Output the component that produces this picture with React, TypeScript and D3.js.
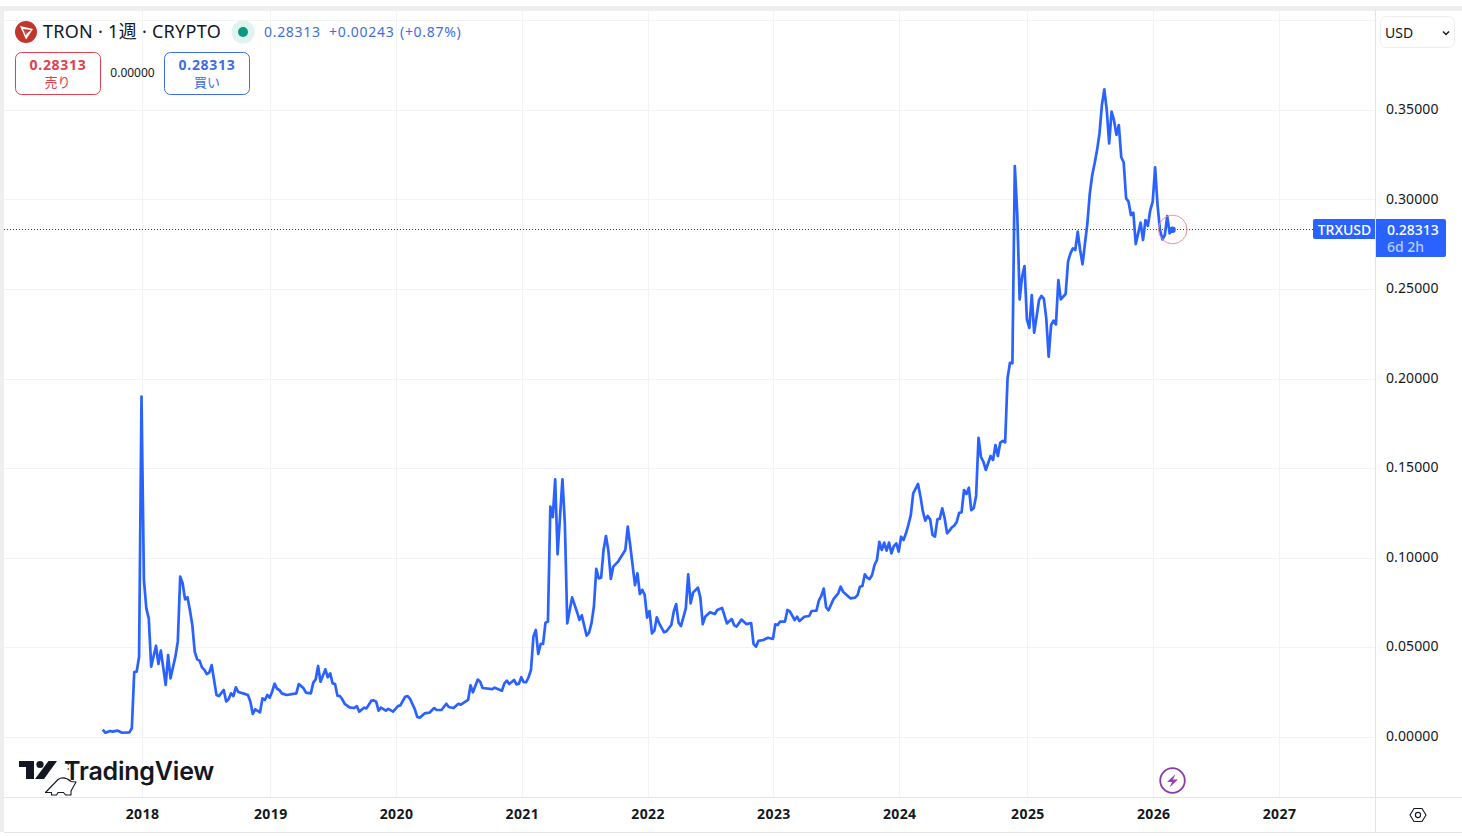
import { useEffect, useRef } from "react";
import * as d3 from "d3";

// bar number = weeks since the first bar of 2018
const bars = [
  -16, -15, -13, -12, -10, -8, -5, -4, -3, -2, -1, 0, 1, 2, 3, 4, 6, 7, 8, 10, 11, 12, 14, 15, 16,
  17, 18, 19, 20, 21, 22, 23, 24, 25, 26, 27, 28, 29, 31, 32, 34, 35, 36, 37, 38, 39, 40, 42, 44, 45,
  46, 47, 49, 50, 51, 52, 53, 54, 55, 56, 57, 58, 60, 64, 65, 67, 68, 70, 71, 72, 73, 74, 76, 77, 78,
  79, 80, 81, 82, 83, 84, 86, 88, 89, 90, 92, 93, 95, 96, 97, 98, 99, 101, 102, 104, 106, 107, 109, 110, 111,
  113, 114, 115, 117, 119, 121, 122, 124, 126, 127, 129, 131, 132, 135, 136, 137, 139, 140, 141, 145, 146, 149, 150, 151, 152,
  154, 155, 156, 157, 158, 159, 160, 161, 162, 163, 164, 165, 166, 167, 168, 169, 170, 171, 172, 174, 175, 176, 178, 180, 181,
  182, 184, 185, 186, 187, 188, 189, 190, 191, 192, 193, 194, 195, 197, 198, 200, 201, 202, 204, 205, 206, 207, 208, 209, 210,
  211, 212, 213, 214, 216, 217, 219, 220, 221, 222, 223, 225, 226, 227, 228, 230, 231, 232, 233, 235, 237, 238, 240, 242, 244,
  245, 246, 248, 250, 252, 253, 254, 255, 257, 259, 261, 262, 263, 264, 266, 267, 268, 270, 271, 272, 274, 276, 277, 279, 280,
  281, 282, 283, 284, 286, 288, 289, 290, 293, 295, 296, 297, 298, 299, 300, 301, 302, 303, 304, 305, 306, 307, 308, 309, 310,
  311, 312, 313, 314, 315, 316, 317, 318, 319, 321, 322, 323, 324, 325, 326, 327, 328, 329, 330, 331, 332, 333, 334, 335, 336,
  337, 338, 339, 340, 341, 342, 343, 344, 345, 346, 347, 348, 349, 351, 352, 353, 354, 355, 356, 357, 358, 359, 360, 361, 362,
  363, 364, 365, 366, 367, 368, 369, 370, 371, 372, 373, 374, 375, 376, 377, 378, 379, 380, 382, 383, 384, 385, 386, 387, 388,
  389, 390, 391, 392, 393, 394, 395, 396, 397, 398, 399, 400, 401, 402, 403, 404, 405, 406, 407, 408, 409, 410, 411, 412, 413,
  414, 415, 416, 417, 418, 419, 420, 421, 422, 423, 424, 425, 426,
];

const prices = [
  0.0038, 0.0021, 0.0031, 0.0027, 0.0033, 0.0021, 0.0023, 0.0046, 0.036, 0.0362, 0.0446, 0.1899, 0.0874, 0.0716, 0.066, 0.039, 0.0507, 0.0405, 0.048, 0.0288, 0.0455, 0.0325, 0.0446, 0.053, 0.0893,
  0.0856, 0.0766, 0.0778, 0.0707, 0.0623, 0.0474, 0.0431, 0.0424, 0.0386, 0.0372, 0.0349, 0.0357, 0.0399, 0.0232, 0.0226, 0.026, 0.0196, 0.0208, 0.0241, 0.0226, 0.0275, 0.0249, 0.0241, 0.0232, 0.0195,
  0.0126, 0.0152, 0.0135, 0.0213, 0.0204, 0.0232, 0.0217, 0.025, 0.0295, 0.0267, 0.026, 0.0241, 0.0232, 0.0241, 0.0293, 0.0269, 0.0245, 0.0241, 0.0301, 0.0319, 0.0394, 0.0306, 0.0375, 0.0331, 0.0353,
  0.0297, 0.0293, 0.0228, 0.0226, 0.0208, 0.0182, 0.0163, 0.0159, 0.017, 0.0139, 0.0161, 0.0157, 0.02, 0.0202, 0.0195, 0.0144, 0.0161, 0.0144, 0.0154, 0.0139, 0.017, 0.0174, 0.0222, 0.0226, 0.021,
  0.0152, 0.0109, 0.0105, 0.0129, 0.0133, 0.0159, 0.0148, 0.0148, 0.0183, 0.0165, 0.0159, 0.0183, 0.0178, 0.0204, 0.0286, 0.0247, 0.0318, 0.0306, 0.0271, 0.0265, 0.0273, 0.0256, 0.0297, 0.0312, 0.0293,
  0.0316, 0.0291, 0.0295, 0.0331, 0.0304, 0.0303, 0.0331, 0.0372, 0.0558, 0.0595, 0.0461, 0.0517, 0.0517, 0.0636, 0.0642, 0.1284, 0.1225, 0.1437, 0.1018, 0.1437, 0.1191, 0.0632, 0.0777, 0.0697, 0.0651,
  0.0677, 0.0563, 0.058, 0.0632, 0.0725, 0.0936, 0.0883, 0.0887, 0.1042, 0.112, 0.1038, 0.088, 0.0949, 0.0977, 0.0999, 0.1042, 0.1172, 0.107, 0.0846, 0.0912, 0.0796, 0.0819, 0.0791, 0.0664, 0.0701,
  0.0576, 0.0591, 0.0666, 0.0632, 0.0582, 0.0588, 0.0623, 0.0697, 0.074, 0.0636, 0.0617, 0.0716, 0.0906, 0.0744, 0.0804, 0.0832, 0.0777, 0.0628, 0.0669, 0.0694, 0.0684, 0.0707, 0.0718, 0.0632, 0.0656,
  0.0621, 0.0614, 0.0653, 0.0628, 0.0634, 0.0517, 0.0502, 0.0534, 0.0539, 0.0552, 0.0545, 0.0627, 0.0623, 0.0642, 0.0642, 0.0707, 0.0699, 0.0651, 0.0669, 0.0645, 0.0669, 0.0673, 0.0701, 0.0703, 0.0759,
  0.0785, 0.0826, 0.0722, 0.0705, 0.0766, 0.08, 0.0837, 0.0809, 0.0772, 0.0776, 0.079, 0.0837, 0.0841, 0.0906, 0.0887, 0.088, 0.0902, 0.0958, 0.0986, 0.1088, 0.1042, 0.1083, 0.1038, 0.1083, 0.1023,
  0.1064, 0.1079, 0.1033, 0.1116, 0.1098, 0.1135, 0.1182, 0.1237, 0.1358, 0.1411, 0.134, 0.1256, 0.1206, 0.1232, 0.1213, 0.1126, 0.1117, 0.1213, 0.1217, 0.1275, 0.1219, 0.1135, 0.115, 0.1169, 0.1178,
  0.12, 0.125, 0.1252, 0.1377, 0.1355, 0.139, 0.1265, 0.1275, 0.1344, 0.1669, 0.1563, 0.1535, 0.1489, 0.1567, 0.1545, 0.1628, 0.1567, 0.1642, 0.1651, 0.1643, 0.2001, 0.2088, 0.2085, 0.3187, 0.2923,
  0.2442, 0.2568, 0.2628, 0.233, 0.2283, 0.2466, 0.2256, 0.2345, 0.2438, 0.2461, 0.2446, 0.2336, 0.2122, 0.2299, 0.2323, 0.2302, 0.255, 0.2442, 0.2472, 0.2653, 0.2699, 0.2727, 0.2718, 0.282, 0.2718,
  0.2638, 0.2755, 0.2867, 0.3034, 0.3137, 0.3202, 0.3276, 0.3369, 0.3528, 0.3615, 0.35, 0.3314, 0.3491, 0.3444, 0.3361, 0.3416, 0.3236, 0.3208, 0.3007, 0.2988, 0.2913, 0.2926, 0.2751, 0.2811, 0.2871,
  0.2774, 0.2885, 0.2853, 0.2941, 0.2988, 0.318, 0.2969, 0.283, 0.2777, 0.2801, 0.2907, 0.2811, 0.28313,
];

const yearBars = [0, 53, 105, 157, 209, 261, 313, 366, 418, 470];
const yearLabels = ["2018", "2019", "2020", "2021", "2022", "2023", "2024", "2025", "2026", "2027"];
const priceTicks = [0, 0.05, 0.1, 0.15, 0.2, 0.25, 0.3, 0.35];
const gridPrices = [0, 0.05, 0.1, 0.15, 0.2, 0.25, 0.3, 0.35, 0.4];
const lastPrice = 0.28313;

const BLUE = "#2962ff";
const INK = "#131722";
const GRID = "#f2f3f5";
const EDGE = "#e3e4e6";
const FONT = "'Noto Sans', 'Noto Sans CJK JP', sans-serif";

export default function App() {
  const ref = useRef<SVGSVGElement>(null);

  useEffect(() => {
    const svg = d3.select(ref.current);
    svg.selectAll("*").remove();

    const x = d3.scaleLinear().domain([0, 470]).range([142, 1279]);
    const y = d3.scaleLinear().domain([0, 0.35]).range([736.5, 110]);

    svg.append("rect").attr("width", 1462).attr("height", 836).attr("fill", "#fff");
    // outer frame of the widget
    svg.append("rect").attr("x", 0).attr("y", 6).attr("width", 1462).attr("height", 5).attr("fill", "#eeeeee");
    svg.append("rect").attr("x", 0).attr("y", 6).attr("width", 4).attr("height", 826).attr("fill", "#eeeeee");

    svg
      .append("g")
      .selectAll("line")
      .data(gridPrices)
      .join("line")
      .attr("x1", 4)
      .attr("x2", 1375)
      .attr("y1", (d) => Math.round(y(d)) + 0.5)
      .attr("y2", (d) => Math.round(y(d)) + 0.5)
      .attr("stroke", GRID);

    svg
      .append("g")
      .selectAll("line")
      .data(yearBars)
      .join("line")
      .attr("x1", (d) => Math.round(x(d)) + 0.5)
      .attr("x2", (d) => Math.round(x(d)) + 0.5)
      .attr("y1", 11)
      .attr("y2", 797)
      .attr("stroke", GRID);

    // pane borders
    const borders = [
      [4, 797.5, 1462, 797.5],
      [4, 832.5, 1462, 832.5],
      [1375.5, 11, 1375.5, 832],
    ];
    svg
      .append("g")
      .selectAll("line")
      .data(borders)
      .join("line")
      .attr("x1", (d) => d[0])
      .attr("y1", (d) => d[1])
      .attr("x2", (d) => d[2])
      .attr("y2", (d) => d[3])
      .attr("stroke", EDGE);

    // last price dotted line
    svg
      .append("line")
      .attr("x1", 4)
      .attr("x2", 1313)
      .attr("y1", 229.5)
      .attr("y2", 229.5)
      .attr("stroke", "#1f3d8f")
      .attr("stroke-dasharray", "1 2");

    const line = d3
      .line<number>()
      .x((d) => x(d) - 0.5)
      .y((_, i) => y(prices[i]));

    svg
      .append("path")
      .attr("d", line(bars))
      .attr("fill", "none")
      .attr("stroke", BLUE)
      .attr("stroke-width", 2.7)
      .attr("stroke-linejoin", "round");

    svg.append("circle").attr("cx", 1172.7).attr("cy", 229.5).attr("r", 14.3).attr("fill", "none").attr("stroke", "#ee8fa3");
    svg.append("circle").attr("cx", x(426)).attr("cy", y(lastPrice)).attr("r", 3.2).attr("fill", BLUE);

    // axes
    const yAxis = svg
      .append("g")
      .attr("transform", "translate(1375,-0.5)")
      .call(d3.axisRight(y).tickValues(priceTicks).tickFormat(d3.format(".5f")).tickSize(0).tickPadding(11));
    yAxis.select(".domain").remove();
    yAxis.selectAll("text").attr("font-family", FONT).attr("font-size", 14).attr("letter-spacing", 0.1).attr("fill", INK);

    const xAxis = svg
      .append("g")
      .attr("transform", "translate(0,797)")
      .call(
        d3
          .axisBottom(x)
          .tickValues(yearBars)
          .tickFormat((_, i) => yearLabels[i])
          .tickSize(0)
          .tickPadding(12),
      );
    xAxis.select(".domain").remove();
    xAxis
      .selectAll("text")
      .attr("font-family", FONT)
      .attr("font-size", 14)
      .attr("font-weight", 700)
      .attr("letter-spacing", 0.4)
      .attr("fill", INK);

    const text = (
      s: string,
      tx: number,
      ty: number,
      size: number,
      fill: string,
      anchor = "start",
      weight = 400,
    ) =>
      svg
        .append("text")
        .attr("x", tx)
        .attr("y", ty)
        .attr("font-family", FONT)
        .attr("font-size", size)
        .attr("font-weight", weight)
        .attr("fill", fill)
        .attr("text-anchor", anchor)
        .text(s);

    // price tags
    svg.append("path").attr("d", "M1375 219H1315a2 2 0 0 0 -2 2V237a2 2 0 0 0 2 2H1375Z").attr("fill", BLUE);
    svg.append("path").attr("d", "M1376 219H1444a2 2 0 0 1 2 2V255a2 2 0 0 1 -2 2H1376Z").attr("fill", BLUE);
    text("TRXUSD", 1344.5, 234.5, 14, "#fff", "middle", 500);
    text("0.28313", 1387, 234.5, 14, "#fff", "start", 500);
    text("6d 2h", 1387, 251.5, 14, "#b9ccff", "start", 500);

    // header
    svg.append("circle").attr("cx", 26).attr("cy", 32).attr("r", 11).attr("fill", "#c0382b");
    svg.append("path").attr("d", "M20 26L33 29L26 39.5Z M23 29L27 33.5L31 30Z M23 29L26 36L26.6 33.5Z").attr("fill", "#fff").attr("fill-rule", "evenodd");
    text("TRON · 1週 · CRYPTO", 43, 38, 18, INK).attr("letter-spacing", 0.28);
    svg.append("circle").attr("cx", 243).attr("cy", 32).attr("r", 11.5).attr("fill", "#dff3ef");
    svg.append("circle").attr("cx", 243).attr("cy", 32).attr("r", 5).attr("fill", "#089981");
    text("0.28313", 264, 37, 14, "#3d6ee8").attr("letter-spacing", 0.7);
    text("+0.00243", 329, 37, 14, "#3d6ee8").attr("letter-spacing", 0.7);
    text("(+0.87%)", 400, 37, 14, "#3d6ee8").attr("letter-spacing", 0.7);

    svg.append("rect").attr("x", 15.5).attr("y", 52.5).attr("width", 85).attr("height", 42).attr("rx", 6).attr("fill", "#fff").attr("stroke", "#e0404f");
    text("0.28313", 58, 70, 14, "#e0404f", "middle", 700).attr("letter-spacing", 0.7);
    text("売り", 57.5, 87, 13, "#e0404f", "middle");
    text("0.00000", 132.5, 76.5, 12, INK, "middle");
    svg.append("rect").attr("x", 164.5).attr("y", 52.5).attr("width", 85).attr("height", 42).attr("rx", 6).attr("fill", "#fff").attr("stroke", "#3d6ee8");
    text("0.28313", 207, 70, 14, "#3d6ee8", "middle", 700).attr("letter-spacing", 0.7);
    text("買い", 207, 87, 13, "#3d6ee8", "middle");

    // currency select
    svg.append("rect").attr("x", 1380.5).attr("y", 16.5).attr("width", 74).attr("height", 31).attr("rx", 6).attr("fill", "#fff").attr("stroke", "#eeeeee");
    text("USD", 1385, 37.5, 14, INK);
    svg.append("path").attr("d", "M1443 31.5L1446 34.5L1449 31.5").attr("fill", "none").attr("stroke", INK).attr("stroke-width", 1.4);

    // TradingView mark
    svg.append("path").attr("d", "M19 761H34V779H26V767H19Z").attr("fill", INK);
    svg.append("circle").attr("cx", 40).attr("cy", 764.5).attr("r", 3.6).attr("fill", INK);
    svg.append("path").attr("d", "M48.5 761H57L44 779H35Z").attr("fill", INK);
    svg.append("circle").attr("cx", 68.3).attr("cy", 764).attr("r", 0.8).attr("fill", INK);
    svg.append("circle").attr("cx", 68.3).attr("cy", 769).attr("r", 0.8).attr("fill", INK);
    text("TradingView", 64, 780, 25, INK, "start", 600).attr("font-family", "Inter").attr("letter-spacing", -0.2);
    svg
      .append("path")
      .attr("d", "M45.5 792.5L58 779.5Q64 775.5 71 781.5L76 782L71 791V795H65.5L63.5 792.5H58L56.5 795H51.5V792.5Z")
      .attr("fill", "#fff")
      .attr("stroke", INK)
      .attr("stroke-width", 1.1)
      .attr("stroke-linejoin", "round");

    // flash icon
    svg.append("circle").attr("cx", 1172.5).attr("cy", 780.5).attr("r", 12.3).attr("fill", "#fff").attr("stroke", "#8e3aa8").attr("stroke-width", 1.8);
    svg.append("path").attr("d", "M1175.5 774L1167 782H1172L1169.5 787.5L1178 779.5H1173Z").attr("fill", "#9c3fb5");

    // settings icon
    svg.append("path").attr("d", "M1410 815L1414 808.5H1422L1426 815L1422 821.5H1414Z").attr("fill", "none").attr("stroke", INK).attr("stroke-width", 1.1);
    svg.append("circle").attr("cx", 1418).attr("cy", 815).attr("r", 2.6).attr("fill", "none").attr("stroke", INK).attr("stroke-width", 1.1);
  }, []);

  return <svg ref={ref} width={1462} height={836} style={{ position: "absolute", left: 0, top: 0, display: "block" }} />;
}
